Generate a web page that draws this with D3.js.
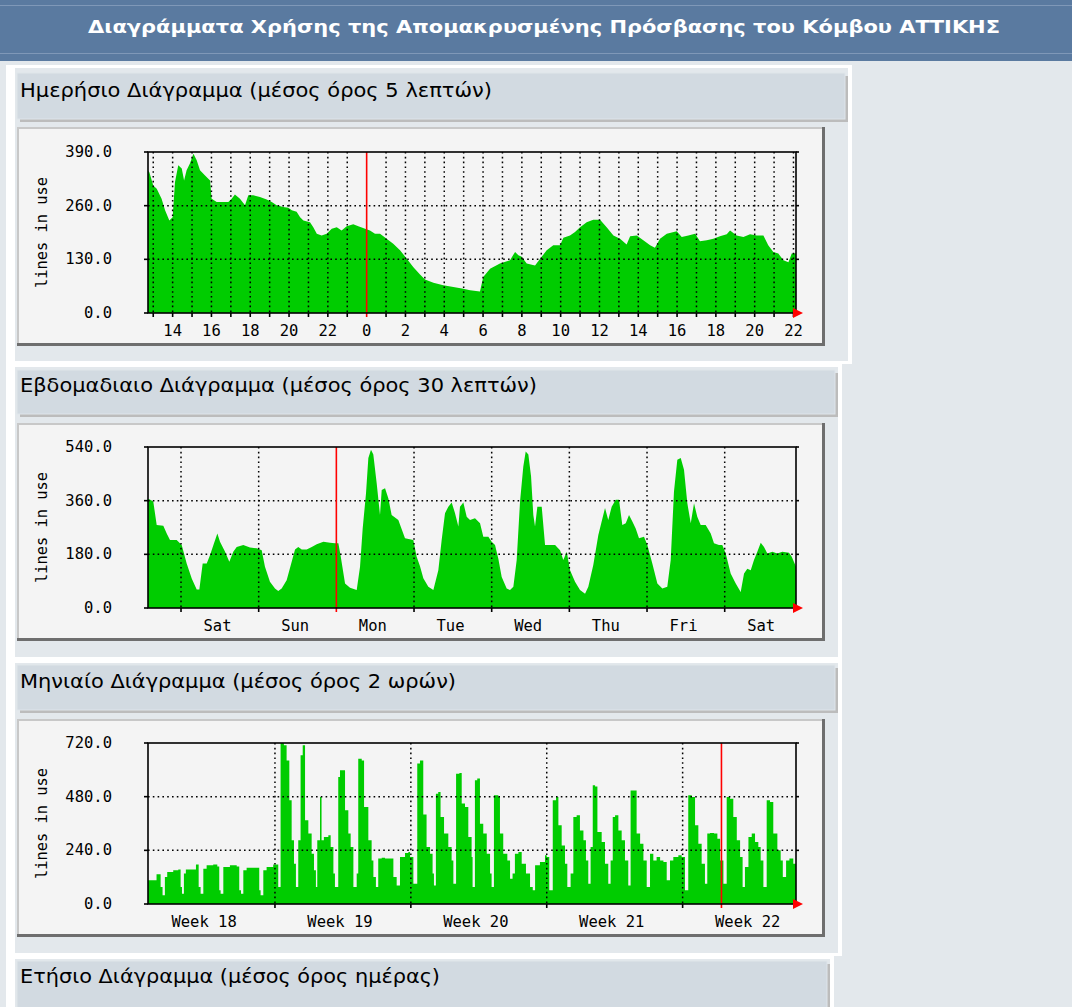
<!DOCTYPE html>
<html><head><meta charset="utf-8">
<script src="https://cdn.jsdelivr.net/npm/d3@7"></script>
<style>body{margin:0;background:#e3e8ec;overflow:hidden}svg{display:block}</style>
</head><body>
<svg id="c" width="1072" height="1007"></svg>
<script>
const pageTitle = "Διαγράμματα Χρήσης της Απομακρυσμένης Πρόσβασης του Κόμβου ΑΤΤΙΚΗΣ";
const sectionTitles = [
  "Ημερήσιο Διάγραμμα (μέσος όρος 5 λεπτών)",
  "Εβδομαδιαιο Διάγραμμα (μέσος όρος 30 λεπτών)",
  "Μηνιαίο Διάγραμμα (μέσος όρος 2 ωρών)",
  "Ετήσιο Διάγραμμα (μέσος όρος ημέρας)"
];
const yAxisTitle = "lines in use";

// Daily: hours since midnight of day 1, values (lines in use)
const dailyHours = [12.73,12.80,13.00,13.18,13.43,13.61,13.83,14.00,14.12,14.29,14.47,14.59,14.72,14.89,15.07,15.24,15.41,15.67,15.93,16.01,16.27,16.87,17.04,17.21,17.47,17.73,17.90,18.16,18.50,18.85,19.11,19.36,19.70,19.96,20.14,20.39,20.57,20.74,21.08,21.25,21.43,21.68,21.94,22.20,22.46,22.71,22.97,23.31,23.57,23.92,24.17,24.43,24.69,25.03,25.37,25.72,26.06,26.41,26.75,27.01,27.44,27.95,28.47,28.98,29.33,29.84,30.01,30.36,30.87,31.39,31.65,31.82,31.99,32.25,32.68,33.02,33.28,33.62,33.97,34.14,34.48,34.74,35.00,35.34,35.68,36.03,36.37,36.72,37.06,37.40,37.58,37.92,38.26,38.61,38.86,39.12,39.47,39.98,40.24,40.58,40.93,41.18,41.53,41.87,42.21,42.56,42.73,43.07,43.42,43.76,44.11,44.45,44.70,44.96,45.22,45.48,45.74,45.91,46.13];
const dailyValues = [345,341,309,301,277,249,224,232,317,358,350,321,346,362,386,370,346,333,321,277,269,269,277,287,277,261,285,285,281,275,269,261,257,255,249,245,232,224,220,208,192,188,192,204,208,200,210,215,210,204,200,192,192,180,168,152,132,111,93,81,73,67,63,59,55,52,87,107,120,128,148,140,136,120,115,136,152,164,164,182,188,196,208,220,226,226,208,188,180,166,186,188,176,164,158,180,192,198,184,188,192,174,176,180,186,191,200,188,184,191,188,188,164,148,144,128,123,144,145];
const dailyYTicks = [0,130,260,390];
const dailyTickHours = [14,16,18,20,22,24,26,28,30,32,34,36,38,40,42,44,46];
const dailyTickLabels = ["14","16","18","20","22","0","2","4","6","8","10","12","14","16","18","20","22"];

// Weekly: days since Friday 00:00, values
const weeklyDays = [0.575,0.592,0.643,0.687,0.772,0.816,0.858,0.944,1.009,1.073,1.138,1.202,1.236,1.279,1.331,1.373,1.425,1.468,1.502,1.567,1.622,1.673,1.717,1.802,1.888,1.974,2.039,2.081,2.145,2.210,2.252,2.296,2.360,2.425,2.468,2.510,2.554,2.618,2.683,2.747,2.833,2.919,2.983,3.026,3.057,3.112,3.176,3.262,3.305,3.339,3.382,3.412,3.446,3.476,3.519,3.562,3.584,3.627,3.669,3.712,3.798,3.884,3.991,4.034,4.077,4.120,4.184,4.249,4.313,4.356,4.399,4.442,4.485,4.528,4.571,4.592,4.635,4.678,4.721,4.785,4.850,4.892,4.957,5.000,5.043,5.085,5.129,5.193,5.236,5.279,5.322,5.365,5.407,5.438,5.472,5.507,5.536,5.558,5.588,5.644,5.687,5.751,5.816,5.880,5.922,5.966,6.009,6.073,6.137,6.202,6.244,6.308,6.373,6.416,6.459,6.501,6.545,6.597,6.639,6.682,6.726,6.768,6.811,6.854,6.897,6.961,7.004,7.068,7.133,7.197,7.261,7.305,7.347,7.390,7.434,7.476,7.519,7.563,7.605,7.647,7.691,7.755,7.820,7.862,7.926,7.969,8.013,8.077,8.142,8.206,8.249,8.291,8.335,8.377,8.420,8.464,8.506,8.549,8.613,8.678,8.742,8.828,8.863,8.918];
const weeklyValues = [365,365,357,278,276,250,228,228,211,149,99,62,62,149,149,177,217,250,222,189,155,189,205,211,203,200,194,138,88,65,57,65,93,155,196,205,196,196,205,214,222,219,217,217,172,82,68,60,138,267,385,503,531,515,419,312,396,402,368,312,295,234,228,172,140,100,71,60,127,228,318,340,354,318,273,340,354,306,295,301,284,239,239,222,211,166,104,65,60,71,161,357,475,525,515,441,312,273,340,340,211,211,211,194,161,189,127,88,60,48,71,144,245,290,335,295,340,363,363,278,284,312,290,267,234,239,211,149,82,65,71,161,391,497,503,464,351,284,351,306,278,278,250,217,211,211,183,116,82,54,116,132,127,161,189,219,205,183,189,183,189,185,172,138];
const weeklyYTicks = [0,180,360,540];
const weeklyLabelDays = [1.47,2.47,3.47,4.47,5.47,6.47,7.47,8.47];
const weeklyLabels = ["Sat","Sun","Mon","Tue","Wed","Thu","Fri","Sat"];

// Monthly: days since Monday of week 18, values
const monthlyDays = [0.46,0.53,0.90,1.11,1.21,1.33,1.45,1.76,2.02,2.14,2.21,2.31,2.41,2.79,2.93,3.07,3.17,3.31,3.48,3.82,4.03,4.13,4.20,4.34,4.68,5.03,5.16,5.25,5.37,5.54,6.06,6.19,6.26,6.40,6.57,6.91,7.05,7.17,7.29,7.46,7.60,7.74,7.86,7.98,8.08,8.20,8.32,8.43,8.55,8.72,8.89,9.01,9.11,9.18,9.32,9.40,9.52,9.75,9.87,10.01,10.09,10.26,10.35,10.49,10.61,10.78,10.90,11.04,11.21,11.29,11.47,11.59,11.81,11.98,12.07,12.20,12.32,12.50,12.67,12.92,13.10,13.27,13.44,13.70,13.87,13.96,14.13,14.33,14.47,14.64,14.81,14.99,15.12,15.19,15.29,15.41,15.53,15.71,15.93,16.10,16.19,16.33,16.50,16.62,16.79,16.96,17.13,17.18,17.30,17.42,17.56,17.73,17.91,18.08,18.16,18.28,18.51,18.59,18.76,18.97,19.11,19.24,19.36,19.54,19.71,19.93,20.14,20.28,20.40,20.65,20.91,21.00,21.13,21.31,21.48,21.60,21.77,21.94,22.06,22.23,22.37,22.54,22.71,22.89,23.02,23.14,23.26,23.37,23.49,23.61,23.83,24.00,24.17,24.29,24.40,24.52,24.69,24.86,25.03,25.20,25.32,25.46,25.63,25.81,25.98,26.15,26.32,26.49,26.66,26.84,27.01,27.18,27.35,27.52,27.78,27.95,28.12,28.29,28.47,28.64,28.81,28.98,29.15,29.27,29.41,29.62,29.79,29.93,30.10,30.27,30.44,30.61,30.79,30.96,31.09,31.21,31.39,31.56,31.73,31.90,32.02,32.16,32.33,32.50,32.67,32.88,33.05,33.16,33.33,33.50,33.70,33.84];
const monthlyValues = [106,106,133,76,39,121,143,151,154,76,46,136,154,154,177,76,46,158,173,177,168,61,46,165,173,168,61,46,151,162,162,61,39,151,165,177,177,76,720,710,642,464,285,180,76,285,665,710,374,315,225,151,76,285,479,285,300,307,255,136,76,568,598,598,419,315,255,76,136,650,642,434,285,195,121,76,203,207,203,203,121,83,210,228,233,210,91,628,642,400,255,225,136,83,493,501,389,315,255,195,91,583,586,449,434,300,210,76,553,561,359,315,225,136,76,486,479,315,225,195,113,136,225,233,180,136,76,61,173,188,218,210,61,464,479,352,262,180,76,136,389,397,329,285,195,91,255,531,526,322,277,180,91,195,389,397,329,285,195,83,508,508,315,270,195,76,225,195,210,195,188,106,195,210,218,210,61,486,479,352,270,180,91,315,318,315,292,195,91,479,471,389,285,210,76,165,300,315,277,255,195,76,464,456,315,240,195,121,195,203,180,180];
const monthlyYTicks = [0,240,480,720];
const monthlyWeekStarts = [7,14,21,28];
const monthlyLabelDays = [3.35,10.35,17.35,24.35,31.35];
const monthlyLabels = ["Week 18","Week 19","Week 20","Week 21","Week 22"];

const svg = d3.select("#c");
const MONO = "'DejaVu Sans Mono', monospace";
const SANS = "'DejaVu Sans', Verdana, sans-serif";

// page background
svg.append("rect").attr("width",1072).attr("height",1007).attr("fill","#e3e8ec");
// header bar
svg.append("rect").attr("x",0).attr("y",0).attr("width",1072).attr("height",61).attr("fill","#5a7aa0");
svg.append("line").attr("x1",0).attr("x2",1072).attr("y1",5.5).attr("y2",5.5).attr("stroke","#7f98b8").attr("stroke-width",1);
svg.append("line").attr("x1",0).attr("x2",1072).attr("y1",53.5).attr("y2",53.5).attr("stroke","#7f98b8").attr("stroke-width",1);
svg.append("text").attr("x",544).attr("y",33).attr("text-anchor","middle")
  .attr("font-family",SANS).attr("font-weight","bold").attr("font-size",17)
  .attr("fill","#ffffff").attr("textLength",912).attr("lengthAdjust","spacingAndGlyphs").text(pageTitle);

// blocks (white frame + light inner)
const blocks = [
  {outer:[6,65,852,364], inner:[15,68,848,361]},
  {outer:[6,364,842,660], inner:[15,367,838,657]},
  {outer:[6,660,842,956], inner:[15,663,838,953]},
  {outer:[6,956,834,1010], inner:[15,959,830,1010]}
];
blocks.forEach(b=>{
  svg.append("rect").attr("x",b.outer[0]).attr("y",b.outer[1]).attr("width",b.outer[2]-b.outer[0]).attr("height",b.outer[3]-b.outer[1]).attr("fill","#ffffff");
  svg.append("rect").attr("x",b.inner[0]).attr("y",b.inner[1]).attr("width",b.inner[2]-b.inner[0]).attr("height",b.inner[3]-b.inner[1]).attr("fill","#e3e8ec");
});

// section headers
const headers = [
  {box:[17,73,845,119], base:97, w:472},
  {box:[17,370,835,414], base:392, w:517},
  {box:[17,665,835,710], base:688, w:436},
  {box:[17,961,827,1010], base:983, w:420}
];
headers.forEach((h,i)=>{
  const [x0,y0,x1,y1]=h.box;
  svg.append("rect").attr("x",x0+3).attr("y",y0+3).attr("width",x1-x0).attr("height",y1-y0).attr("fill","#bcbcbc");
  svg.append("rect").attr("x",x0).attr("y",y0).attr("width",x1-x0).attr("height",y1-y0).attr("fill","#d2dae1").attr("stroke","#dfe5ea").attr("stroke-width",1);
  svg.append("text").attr("x",20).attr("y",h.base).attr("font-family",SANS).attr("font-size",20)
    .attr("fill","#000").attr("textLength",h.w).attr("lengthAdjust","spacingAndGlyphs").text(sectionTitles[i]);
});

function drawChart(cfg, idx){
  const g = svg.append("g");
  const [bx0,by0,bx1,by1] = cfg.box;
  g.append("rect").attr("x",bx0).attr("y",by0).attr("width",bx1-bx0).attr("height",by1-by0).attr("fill","#f4f4f4");
  // 3D borders
  g.append("path").attr("d",`M${bx0+1},${by1-1}V${by0+1}H${bx1-1}`).attr("fill","none").attr("stroke","#c8c8c8").attr("stroke-width",2);
  g.append("path").attr("d",`M${bx0},${by1-1.5}H${bx1-1.5}V${by0}`).attr("fill","none").attr("stroke","#6e6e6e").attr("stroke-width",3);

  const L=148, R=796, T=cfg.top, B=cfg.bottom;
  const x = d3.scaleLinear().domain(cfg.xDomain).range([L,R]);
  const y = d3.scaleLinear().domain([0,cfg.yMax]).range([B,T]);

  const clipId = "clip"+idx;
  g.append("clipPath").attr("id",clipId).append("rect").attr("x",L).attr("y",T).attr("width",R-L).attr("height",B-T);

  const pts = cfg.xs.map((v,i)=>[v,cfg.ys[i]]);
  const area = d3.area().x(d=>x(d[0])).y0(y(0)).y1(d=>y(d[1])).curve(cfg.curve);
  g.append("path").datum(pts).attr("d",area).attr("fill","#00cc00").attr("clip-path",`url(#${clipId})`);

  const dot = {stroke:"#000","stroke-width":1.5,"stroke-dasharray":"1.6,3.2"};
  // horizontal grid
  cfg.yTicks.filter(t=>t>0 && t<cfg.yMax).forEach(t=>{
    const l=g.append("line").attr("x1",L).attr("x2",R).attr("y1",y(t)).attr("y2",y(t));
    Object.entries(dot).forEach(([k,v])=>l.attr(k,v));
  });
  // vertical grid
  cfg.xGrid.forEach(t=>{
    if (t===cfg.red) return;
    const l=g.append("line").attr("x1",x(t)).attr("x2",x(t)).attr("y1",T).attr("y2",B);
    Object.entries(dot).forEach(([k,v])=>l.attr(k,v));
  });
  // red line
  g.append("line").attr("x1",x(cfg.red)).attr("x2",x(cfg.red)).attr("y1",T).attr("y2",B+4)
    .attr("stroke","#ff0000").attr("stroke-width",1.6);
  // frame
  g.append("rect").attr("x",L).attr("y",T).attr("width",R-L).attr("height",B-T)
    .attr("fill","none").attr("stroke","#000").attr("stroke-width",1.6);
  // y ticks
  cfg.yTicks.forEach(t=>{
    g.append("line").attr("x1",L-4).attr("x2",L).attr("y1",y(t)).attr("y2",y(t)).attr("stroke","#000").attr("stroke-width",1.6);
    g.append("line").attr("x1",R).attr("x2",R+3).attr("y1",y(t)).attr("y2",y(t)).attr("stroke","#000").attr("stroke-width",1.6);
    g.append("text").attr("x",112).attr("y",y(t)).attr("text-anchor","end").attr("dominant-baseline","central")
      .attr("font-family",MONO).attr("font-size",15.5).attr("fill","#000").text(t.toFixed(1));
  });
  // x ticks
  cfg.xGrid.forEach(t=>{
    if (t===cfg.red) return;
    g.append("line").attr("x1",x(t)).attr("x2",x(t)).attr("y1",B).attr("y2",B+4).attr("stroke","#000").attr("stroke-width",1.6);
  });
  // x labels
  cfg.labelXs.forEach((t,i)=>{
    g.append("text").attr("x",x(t)).attr("y",cfg.labelBase).attr("text-anchor","middle")
      .attr("font-family",MONO).attr("font-size",15.5).attr("fill","#000").text(cfg.labels[i]);
  });
  // arrow
  g.append("path").attr("d",`M${R-3},${B-5}L${R+7},${B}L${R-3},${B+5}Z`).attr("fill","#ff0000");
  // y axis title
  g.append("text").attr("transform",`translate(42,${(T+B)/2}) rotate(-90)`).attr("text-anchor","middle")
    .attr("dominant-baseline","central").attr("font-family",MONO).attr("font-size",15.4).attr("fill","#000").text(yAxisTitle);
}

drawChart({box:[17,127,825,346], top:152, bottom:313, xDomain:[12.73,46.13], yMax:390,
  xs:dailyHours, ys:dailyValues, curve:d3.curveLinear, yTicks:dailyYTicks,
  xGrid:d3.range(13,47), red:24, labelXs:dailyTickHours, labels:dailyTickLabels, labelBase:335.5},0);

drawChart({box:[17,423,825,641], top:447, bottom:608, xDomain:[0.575,8.918], yMax:540,
  xs:weeklyDays, ys:weeklyValues, curve:d3.curveLinear, yTicks:weeklyYTicks,
  xGrid:[1,2,3,4,5,6,7,8], red:3, labelXs:weeklyLabelDays, labels:weeklyLabels, labelBase:631},1);

drawChart({box:[17,719,825,937], top:743, bottom:904, xDomain:[0.46,33.84], yMax:720,
  xs:monthlyDays, ys:monthlyValues, curve:d3.curveStepAfter, yTicks:monthlyYTicks,
  xGrid:monthlyWeekStarts.concat([30]), red:30, labelXs:monthlyLabelDays, labels:monthlyLabels, labelBase:926.5},2);
</script>
</body></html>
